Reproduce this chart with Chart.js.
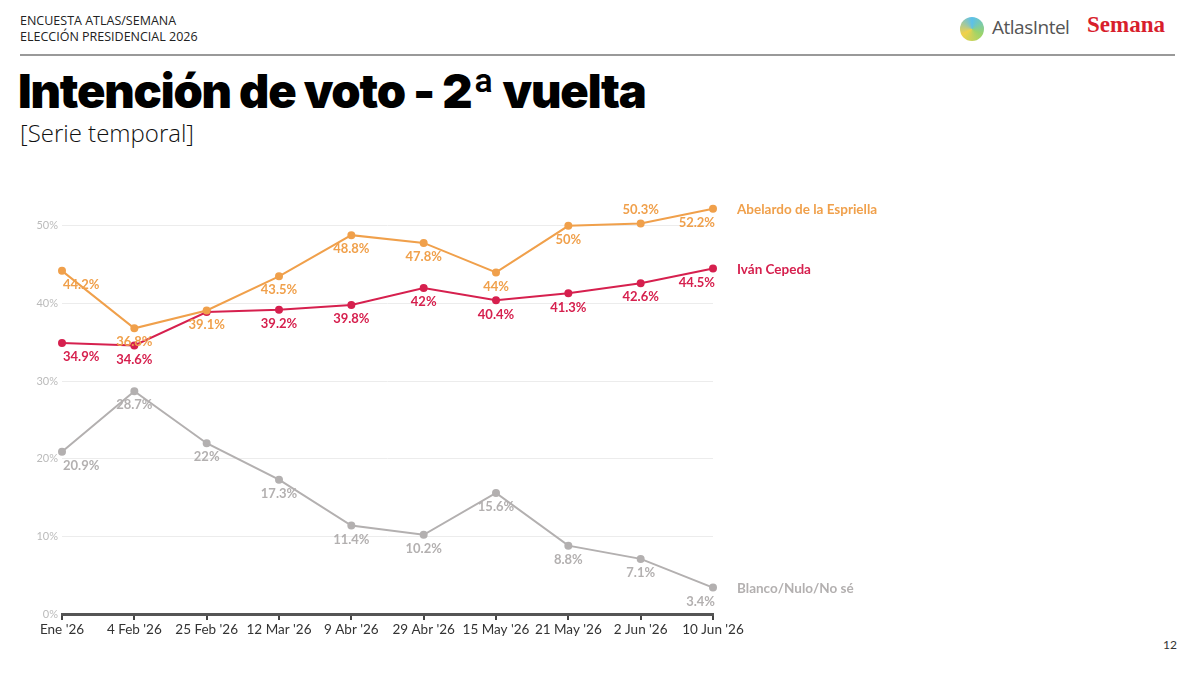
<!DOCTYPE html>
<html><head><meta charset="utf-8">
<script src="https://cdn.jsdelivr.net/npm/chart.js@4"></script>
<style>
body{margin:0;width:1200px;height:673px;background:#fff;position:relative;overflow:hidden;font-family:Lato,sans-serif}
#hdr{position:absolute;left:20px;top:13px;font-size:12.5px;line-height:16px;color:#222;font-family:"Open Sans",sans-serif}
#rule{position:absolute;left:20px;top:54px;width:1155px;height:2px;background:#999}
#title{position:absolute;left:18px;top:62px;font-family:Inter,sans-serif;font-weight:900;font-size:47px;letter-spacing:-1.2px;color:#000}
#sub{position:absolute;left:20px;top:116px;font-size:24px;color:#111;font-family:"Open Sans",sans-serif;font-weight:300}
#atlas{position:absolute;left:960px;top:14px;font-size:19px;color:#555;font-family:"Open Sans",sans-serif;letter-spacing:-0.5px}
#atlas span{display:inline-block;width:24px;height:24px;border-radius:50%;background:conic-gradient(#5bc0eb,#9bd46a,#f2d14a,#5bc0eb);vertical-align:middle;margin-right:8px}
#sem{position:absolute;left:1087px;top:12px;font-size:23px;color:#d81e2c;font-weight:bold;font-family:"Liberation Serif",serif}
#pg{position:absolute;left:1163px;top:637px;font-size:12px;color:#333}
canvas{position:absolute;left:0;top:0}
</style></head><body>
<div id="hdr">ENCUESTA ATLAS/SEMANA<br>ELECCIÓN PRESIDENCIAL 2026</div>
<div id="atlas"><span></span>AtlasIntel</div>
<div id="sem">Semana</div>
<div id="rule"></div>
<div id="title">Intención de voto - 2ª vuelta</div>
<div id="sub">[Serie temporal]</div>
<div id="pg">12</div>
<canvas id="c" width="1200" height="673"></canvas>
<script>
const fechas = ["Ene '26","4 Feb '26","25 Feb '26","12 Mar '26","9 Abr '26","29 Abr '26","15 May '26","21 May '26","2 Jun '26","10 Jun '26"];
const abelardo = [44.2,36.8,39.1,43.5,48.8,47.8,44,50,50.3,52.2];
const cepeda = [34.9,34.6,38.9,39.2,39.8,42,40.4,41.3,42.6,44.5];
const blanco = [20.9,28.7,22,17.3,11.4,10.2,15.6,8.8,7.1,3.4];
const cepedaEtiq = ["34.9%","34.6%",null,"39.2%","39.8%","42%","40.4%","41.3%","42.6%","44.5%"];
const yTicks = [0,10,20,30,40,50];
const nombres = ["Abelardo de la Espriella","Iván Cepeda","Blanco/Nulo/No sé"];
const colores = ["#f0a04b","#d6204e","#b3b0b0"];

// etiqueta encima (-1) o debajo (1)
const arriba = {0:[1,1,1,1,1,1,1,1,-1,1],1:[1,1,1,1,1,1,1,1,1,1],2:[1,1,1,1,1,1,1,1,1,1]};

const labelPlugin = {
  id:'labels',
  afterDatasetsDraw(chart){
    const ctx = chart.ctx;
    ctx.save();
    ctx.font = "bold 13px Lato";
    chart.data.datasets.forEach((ds,di)=>{
      const meta = chart.getDatasetMeta(di);
      meta.data.forEach((p,i)=>{
        const txt = di==1 ? cepedaEtiq[i] : ds.data[i]+"%";
        if(!txt) return;
        ctx.fillStyle = ds.borderColor;
        ctx.textBaseline = 'middle';
        let x = p.x;
        if(i==0){ctx.textAlign='left'; x = p.x+1;}
        else if(i==ds.data.length-1){ctx.textAlign='right'; x = p.x+2;}
        else ctx.textAlign='center';
        ctx.fillText(txt, x, p.y + 14*arriba[di][i]);
        if(i==ds.data.length-1){
          ctx.textAlign='left';
          ctx.font = "bold 13.5px Lato";
          ctx.fillText(nombres[di], p.x+24, p.y+1);
          ctx.font = "bold 13px Lato";
        }
      });
    });
    ctx.restore();
  }
};

new Chart(document.getElementById('c'),{
  type:'line',
  data:{labels:fechas,datasets:[abelardo,cepeda,blanco].map((d,i)=>({
    data:d,borderColor:colores[i],backgroundColor:colores[i],borderWidth:2,
    pointRadius:3,pointHoverRadius:3,tension:0,clip:false}))},
  options:{
    responsive:false,animation:false,
    layout:{padding:{left:0,right:487,top:187,bottom:0}},
    plugins:{legend:{display:false},tooltip:{enabled:false}},
    scales:{
      y:{min:0,max:55,
        afterFit(s){s.width=62;},
        afterBuildTicks(s){s.ticks = yTicks.map(v=>({value:v}));},
        ticks:{callback:v=>v+"%",color:'#bbb',font:{family:'Lato',size:11},padding:4},
        grid:{color:'#ececec',drawTicks:false},border:{display:false}},
      x:{offset:false,
        afterFit(s){s.height=59;},
        ticks:{color:'#333',font:{family:'Lato',size:13.5},padding:2,maxRotation:0},
        grid:{display:true,drawOnChartArea:false,drawTicks:true,tickLength:6,color:'#444',lineWidth:2},
        border:{color:'#555',width:3}}
    }
  },
  plugins:[labelPlugin]
});
</script>
</body></html>
